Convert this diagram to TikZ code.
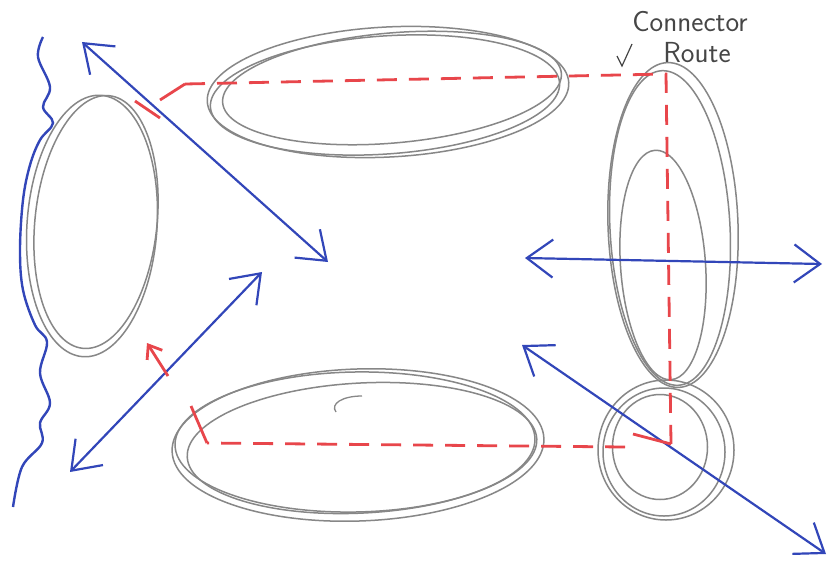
\documentclass[tikz,border=0pt]{standalone}
\usetikzlibrary{arrows.meta,shapes.geometric}
\definecolor{sketchgray}{RGB}{135,135,135}
\definecolor{penblue}{RGB}{50,70,185}
\definecolor{penred}{RGB}{232,70,75}
\definecolor{inkgray}{RGB}{70,70,70}
\begin{document}
\begin{tikzpicture}[x=1pt,y=-1pt,
  outline/.style={ellipse, draw=sketchgray, line width=1.5pt, inner sep=0pt},
  bluearrow/.style={draw=penblue, line width=2.2pt, {Straight Barb[length=26pt,width=38pt]}-{Straight Barb[length=26pt,width=38pt]}},
  route/.style={draw=penred, line width=2.8pt, dash pattern=on 20pt off 12pt},
  routesolid/.style={draw=penred, line width=2.8pt},
  label/.style={text=inkgray, font=\sffamily\fontsize{29}{29}\selectfont, inner sep=0pt}
  ]
\useasboundingbox (0,0) rectangle (829,570);
\fill[white] (0,0) rectangle (829,570);

% left ellipse
\node[outline, minimum width=130pt, minimum height=262pt, rotate=-4] (leftA) at (92,226) {};
\node[outline, minimum width=122pt, minimum height=254pt, rotate=-6] (leftB) at (96,222) {};
% top ellipse
\node[outline, minimum width=362pt, minimum height=130pt, rotate=3] (topA) at (388,92) {};
\node[outline, minimum width=350pt, minimum height=118pt, rotate=4] (topB) at (385,95) {};
\node[outline, minimum width=340pt, minimum height=110pt, rotate=5] (topC) at (392,88) {};
% right ellipse
\node[outline, minimum width=130pt, minimum height=325pt, rotate=2] (rightA) at (673,225) {};
\node[outline, minimum width=120pt, minimum height=315pt, rotate=3] (rightB) at (670,228) {};
\node[outline, minimum width=85pt, minimum height=230pt, rotate=4] (rightC) at (663,265) {};
% bottom ellipse
\node[outline, minimum width=372pt, minimum height=152pt, rotate=2] (botA) at (358,445) {};
\node[outline, minimum width=360pt, minimum height=140pt, rotate=1] (botB) at (355,442) {};
\node[outline, minimum width=350pt, minimum height=130pt, rotate=3] (botC) at (362,448) {};
\draw[sketchgray, line width=1.3pt] (362,396) .. controls (342,396) and (330,404) .. (336,412);
% small bottom-right ellipse
\node[outline, minimum width=136pt, minimum height=140pt] (brA) at (666,450) {};
\node[outline, minimum width=122pt, minimum height=128pt] (brB) at (664,452) {};
\node[outline, minimum width=95pt, minimum height=105pt] (brC) at (660,447) {};

% blue wavy edge
\draw[penblue, line width=2.4pt] plot[smooth, tension=0.6] coordinates {
 (43,37) (38,57) (50,87) (43,107) (53,123) (40,140) (30,165) (23,200) (20,250)
 (23,290) (35,325) (47,342) (40,373) (50,403) (40,423) (42,443) (22,467) (13,507)};

% blue arrows
\coordinate (a1) at (82,42);  \coordinate (a2) at (328,262);
\coordinate (b1) at (70,472); \coordinate (b2) at (262,272);
\coordinate (c1) at (525,258); \coordinate (c2) at (822,264);
\coordinate (d1) at (522,345); \coordinate (d2) at (826,554);
\draw[bluearrow] (a1) -- (a2);
\draw[bluearrow] (b1) -- (b2);
\draw[bluearrow] (c1) -- (c2);
\draw[bluearrow] (d1) -- (d2);

% red connector route
\coordinate (r0) at (160,100); \coordinate (r1) at (185,84);
\coordinate (r2) at (666,74);  \coordinate (r3) at (671,444);
\coordinate (r6) at (633,434); \coordinate (r7) at (625,447);
\coordinate (r4) at (207,443); \coordinate (r5) at (191,406);
\coordinate (t1) at (135,101); \coordinate (t2) at (160,118);
\coordinate (q1) at (168,376); \coordinate (q2) at (147,343);
\draw[routesolid] (r0) -- (r1);
\draw[routesolid] (t1) -- (t2);
\draw[route] (r1) -- (r2) -- (r3);
\draw[routesolid] (r3) -- (r6);
\draw[route] (r7) -- (r4);
\draw[routesolid] (r4) -- (r5);
\draw[routesolid, -{Straight Barb[length=12pt,width=18pt]}] (q1) -- (q2);

% label
\node[label] (lab1) at (690,22) {Connector};
\node[label] (lab2) at (697,53) {Route};
\coordinate (k1) at (617,56); \coordinate (k2) at (622,66); \coordinate (k3) at (632,44);
\draw[inkgray, line width=1.2pt] (k1) -- (k2) -- (k3);
\end{tikzpicture}
\end{document}
